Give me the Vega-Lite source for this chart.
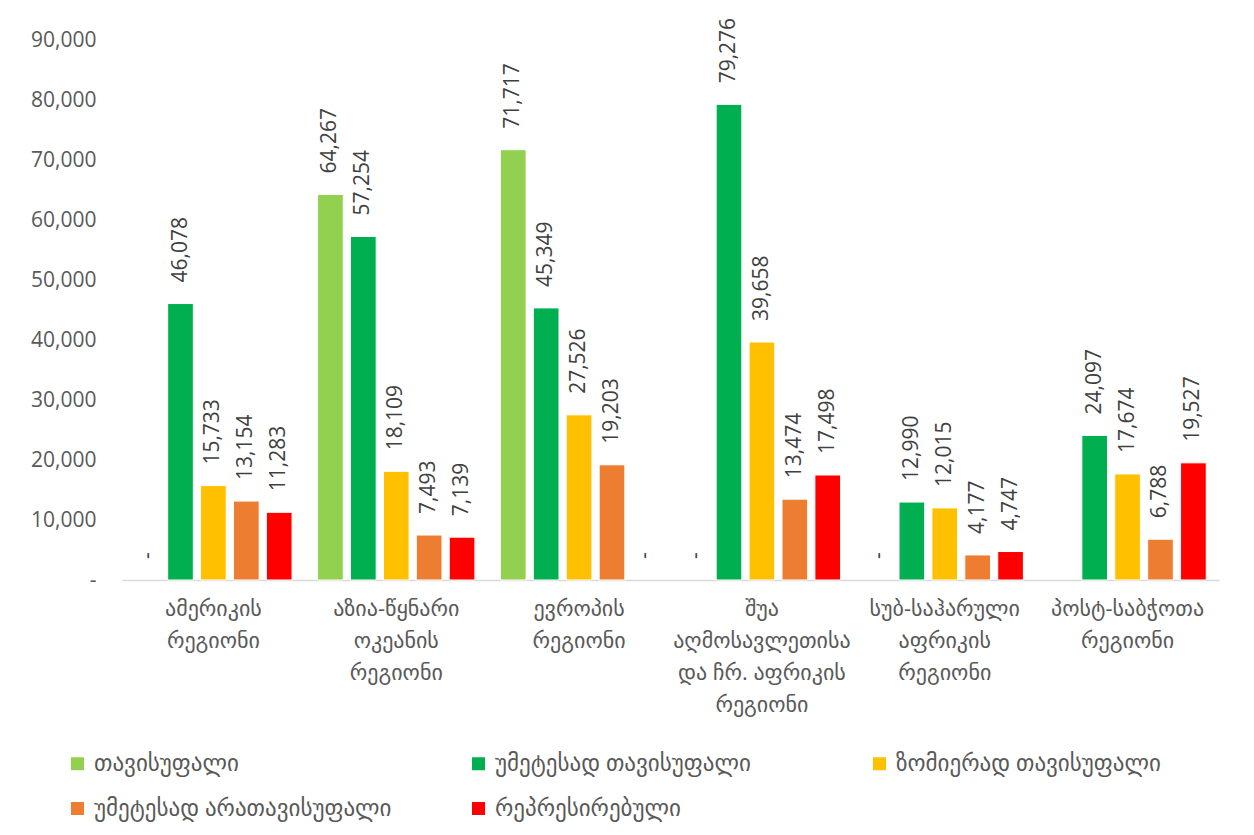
{
  "$schema": "https://vega.github.io/schema/vega-lite/v6.json",
  "autosize": {"type": "none"},
  "width": 1097,
  "height": 540,
  "padding": {"left": 122, "top": 40, "right": 35, "bottom": 255},
  "background": "white",
  "config": {
    "view": {"stroke": null},
    "font": "Open Sans, DejaVu Sans",
    "axis": {"labelFont": "Open Sans, DejaVu Sans", "labelColor": "#595959", "grid": false, "ticks": false, "title": null}
  },
  "data": {
    "values": [
      {"region": "ამერიკის|რეგიონი", "status": "თავისუფალი", "value": 0},
      {"region": "ამერიკის|რეგიონი", "status": "უმეტესად თავისუფალი", "value": 46078},
      {"region": "ამერიკის|რეგიონი", "status": "ზომიერად თავისუფალი", "value": 15733},
      {"region": "ამერიკის|რეგიონი", "status": "უმეტესად არათავისუფალი", "value": 13154},
      {"region": "ამერიკის|რეგიონი", "status": "რეპრესირებული", "value": 11283},
      {"region": "აზია-წყნარი|ოკეანის|რეგიონი", "status": "თავისუფალი", "value": 64267},
      {"region": "აზია-წყნარი|ოკეანის|რეგიონი", "status": "უმეტესად თავისუფალი", "value": 57254},
      {"region": "აზია-წყნარი|ოკეანის|რეგიონი", "status": "ზომიერად თავისუფალი", "value": 18109},
      {"region": "აზია-წყნარი|ოკეანის|რეგიონი", "status": "უმეტესად არათავისუფალი", "value": 7493},
      {"region": "აზია-წყნარი|ოკეანის|რეგიონი", "status": "რეპრესირებული", "value": 7139},
      {"region": "ევროპის|რეგიონი", "status": "თავისუფალი", "value": 71717},
      {"region": "ევროპის|რეგიონი", "status": "უმეტესად თავისუფალი", "value": 45349},
      {"region": "ევროპის|რეგიონი", "status": "ზომიერად თავისუფალი", "value": 27526},
      {"region": "ევროპის|რეგიონი", "status": "უმეტესად არათავისუფალი", "value": 19203},
      {"region": "ევროპის|რეგიონი", "status": "რეპრესირებული", "value": 0},
      {"region": "შუა|აღმოსავლეთისა|და ჩრ. აფრიკის|რეგიონი", "status": "თავისუფალი", "value": 0},
      {"region": "შუა|აღმოსავლეთისა|და ჩრ. აფრიკის|რეგიონი", "status": "უმეტესად თავისუფალი", "value": 79276},
      {"region": "შუა|აღმოსავლეთისა|და ჩრ. აფრიკის|რეგიონი", "status": "ზომიერად თავისუფალი", "value": 39658},
      {"region": "შუა|აღმოსავლეთისა|და ჩრ. აფრიკის|რეგიონი", "status": "უმეტესად არათავისუფალი", "value": 13474},
      {"region": "შუა|აღმოსავლეთისა|და ჩრ. აფრიკის|რეგიონი", "status": "რეპრესირებული", "value": 17498},
      {"region": "სუბ-საჰარული|აფრიკის|რეგიონი", "status": "თავისუფალი", "value": 0},
      {"region": "სუბ-საჰარული|აფრიკის|რეგიონი", "status": "უმეტესად თავისუფალი", "value": 12990},
      {"region": "სუბ-საჰარული|აფრიკის|რეგიონი", "status": "ზომიერად თავისუფალი", "value": 12015},
      {"region": "სუბ-საჰარული|აფრიკის|რეგიონი", "status": "უმეტესად არათავისუფალი", "value": 4177},
      {"region": "სუბ-საჰარული|აფრიკის|რეგიონი", "status": "რეპრესირებული", "value": 4747},
      {"region": "პოსტ-საბჭოთა|რეგიონი", "status": "უმეტესად თავისუფალი", "value": 24097},
      {"region": "პოსტ-საბჭოთა|რეგიონი", "status": "ზომიერად თავისუფალი", "value": 17674},
      {"region": "პოსტ-საბჭოთა|რეგიონი", "status": "უმეტესად არათავისუფალი", "value": 6788},
      {"region": "პოსტ-საბჭოთა|რეგიონი", "status": "რეპრესირებული", "value": 19527}
    ]
  },
  "transform": [
    {"calculate": "datum.value == 0 ? '-' : format(datum.value, ',')", "as": "label"}
  ],
  "encoding": {
    "x": {
      "field": "region",
      "type": "nominal",
      "sort": null,
      "scale": {"paddingInner": 0.1, "paddingOuter": 0.05},
      "axis": {
        "labelAngle": 0,
        "labelExpr": "split(datum.value, '|')",
        "labelFontSize": 22,
        "labelLineHeight": 32,
        "labelPadding": 18,
        "labelBaseline": "top",
        "domainColor": "#d9d9d9",
        "domainWidth": 1.5,
        "labelLimit": 300
      }
    },
    "xOffset": {
      "field": "status",
      "type": "nominal",
      "scale": {
        "domain": ["თავისუფალი", "უმეტესად თავისუფალი", "ზომიერად თავისუფალი", "უმეტესად არათავისუფალი", "რეპრესირებული"],
        "paddingInner": 0.22,
        "paddingOuter": 0.11
      }
    },
    "y": {
      "field": "value",
      "type": "quantitative",
      "scale": {"domain": [0, 90000], "nice": false},
      "axis": {
        "values": [0, 10000, 20000, 30000, 40000, 50000, 60000, 70000, 80000, 90000],
        "labelExpr": "datum.value == 0 ? '-' : format(datum.value, ',')",
        "labelFontSize": 21,
        "labelPadding": 26,
        "domain": false
      }
    }
  },
  "layer": [
    {
      "transform": [{"filter": "datum.value > 0"}],
      "mark": {"type": "bar", "stroke": "white", "strokeWidth": 1},
      "encoding": {
        "color": {
          "field": "status",
          "type": "nominal",
          "scale": {
            "domain": ["თავისუფალი", "უმეტესად თავისუფალი", "ზომიერად თავისუფალი", "უმეტესად არათავისუფალი", "რეპრესირებული"],
            "range": ["#92D050", "#00B050", "#FFC000", "#ED7D31", "#FF0000"]
          },
          "legend": {
            "title": null,
            "orient": "none",
            "legendX": -56,
            "legendY": 712,
            "direction": "horizontal",
            "columns": 3,
            "gridAlign": "all",
            "columnPadding": 75,
            "rowPadding": 21,
            "symbolType": "square",
            "symbolSize": 169,
            "symbolStrokeWidth": 0,
            "labelFontSize": 23,
            "labelColor": "#595959",
            "labelOffset": 5,
            "labelLimit": 400
          }
        }
      }
    },
    {
      "mark": {"type": "text", "angle": 270, "align": "left", "baseline": "middle", "dx": 21, "fontSize": 21, "color": "#404040", "font": "Open Sans"},
      "encoding": {
        "text": {"field": "label", "type": "nominal"}
      }
    }
  ]
}
